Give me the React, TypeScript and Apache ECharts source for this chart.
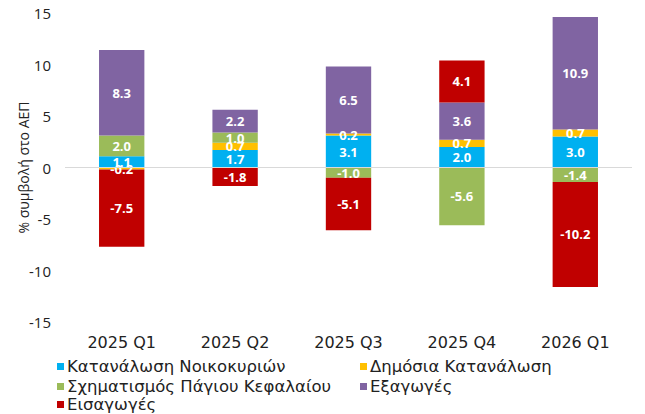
import React, { useEffect, useRef } from "react";
import * as echarts from "echarts";

const categories = ["2025 Q1", "2025 Q2", "2025 Q3", "2025 Q4", "2026 Q1"];
const households = [1.1, 1.7, 3.1, 2.0, 3.0];
const publicCons = [-0.2, 0.7, 0.2, 0.7, 0.7];
const investment = [2.0, 1.0, -1.0, -5.6, -1.4];
const exportsData = [8.3, 2.2, 6.5, 3.6, 10.9];
const importsData = [-7.5, -1.8, -5.1, 4.1, -10.2];

const seriesNames = [
  "Κατανάλωση Νοικοκυριών",
  "Δημόσια Κατανάλωση",
  "Σχηματισμός Πάγιου Κεφαλαίου",
  "Εξαγωγές",
  "Εισαγωγές",
];
const seriesData = [households, publicCons, investment, exportsData, importsData];
const colors = ["#00B0F0", "#FFC000", "#9BBB59", "#8064A2", "#C00000"];

const FONT = "'DejaVu Sans', 'Open Sans', sans-serif";
const FONT2 = "'Open Sans', 'Noto Sans', sans-serif";

// legend item placement: [left, centerY]
const legendPos: [number, number][] = [
  [57, 366],
  [360, 366],
  [57, 386],
  [360, 386],
  [57, 404],
];

export default function App() {
  const ref = useRef<HTMLDivElement>(null);
  useEffect(() => {
    if (!ref.current) return;
    const chart = echarts.init(ref.current, null, { renderer: "svg" });
    const series: any[] = seriesNames.map((name, i) => ({
      name,
      type: "bar",
      stack: "total",
      barWidth: "40%",
      data: seriesData[i],
      itemStyle: { color: colors[i] },
      label: {
        show: true,
        position: "inside",
        color: "#fff",
        fontWeight: "bold",
        fontSize: 13,
        fontFamily: FONT2,
        formatter: (p: any) => Number(p.value).toFixed(1),
      },
    }));
    series[0].markLine = {
      silent: true,
      symbol: "none",
      label: { show: false },
      lineStyle: { color: "#d9d9d9", type: "solid", width: 1 },
      data: [{ yAxis: 0 }],
    };
    const legends = seriesNames.map((name, i) => ({
      data: [name],
      left: legendPos[i][0],
      top: legendPos[i][1] - 8,
      padding: 0,
      itemWidth: 7,
      itemHeight: 7,
      itemGap: 0,
      icon: "rect",
      textStyle: {
        fontSize: 16.5,
        lineHeight: 16,
        color: "#222",
        fontFamily: FONT,
        padding: [0, 0, 0, -2],
      },
    }));
    chart.setOption({
      animation: false,
      color: colors,
      grid: { left: 65, right: 13, top: 13, bottom: 92 },
      legend: legends,
      xAxis: {
        type: "category",
        data: categories,
        axisLine: { show: false },
        axisTick: { show: false },
        axisLabel: { fontSize: 16, color: "#222", fontFamily: FONT, margin: 12 },
      },
      yAxis: {
        type: "value",
        min: -15,
        max: 15,
        interval: 5,
        name: "% συμβολή στο ΑΕΠ",
        nameLocation: "middle",
        nameMoveOverlap: false,
        nameGap: 35,
        nameTextStyle: { fontSize: 14, color: "#222", fontFamily: FONT2 },
        splitLine: { show: false },
        axisLine: { show: false },
        axisTick: { show: false },
        axisLabel: { fontSize: 15, color: "#222", fontFamily: FONT2, margin: 14 },
      },
      series,
    });
    return () => chart.dispose();
  }, []);
  return (
    <div
      ref={ref}
      style={{ position: "absolute", left: 0, top: 0, width: 645, height: 414 }}
    />
  );
}
